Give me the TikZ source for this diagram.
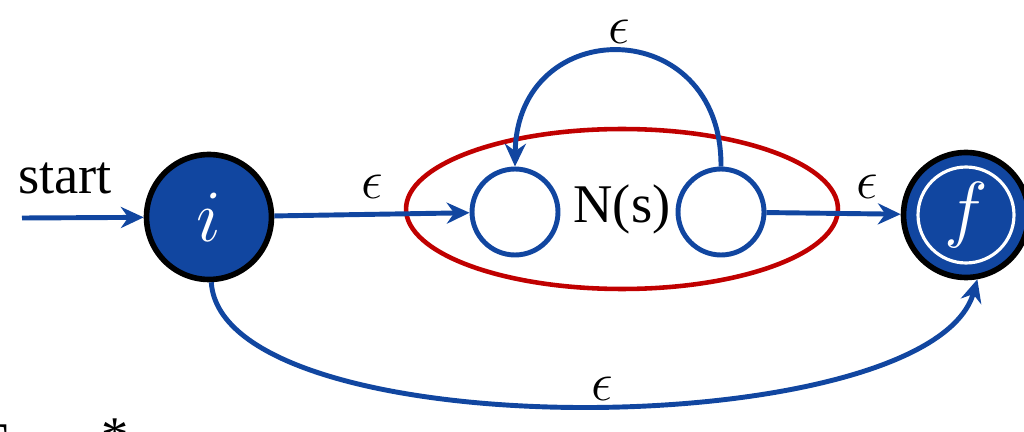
\documentclass[tikz,border=0pt]{standalone}
\usepackage{fix-cm}
\usepackage{fontspec}
\setmainfont{Liberation Serif}
\usetikzlibrary{arrows.meta,shapes.geometric}
\definecolor{nfablue}{HTML}{1146A0}
\definecolor{nfared}{HTML}{C00000}

\begin{document}
\begin{tikzpicture}[x=0.02cm, y=-0.02cm, >={Stealth[length=13pt,width=12pt]},
    every node/.style={font=\fontsize{31}{37}\selectfont},
    endstate/.style={circle,draw=black,line width=3.2pt,fill=nfablue,text=white,minimum size=2.5cm,font=\fontsize{42}{50}\selectfont},
    inner/.style={circle,draw=nfablue,line width=2.8pt,fill=white,minimum size=1.72cm},
    trans/.style={draw=nfablue,line width=2.8pt,->}]
    \useasboundingbox (0,0) rectangle (1024,432);
    % N(s)
    \node[ellipse,draw=nfared,line width=2.6pt,minimum width=8.64cm,minimum height=3.2cm] (ns) at (622,209) {N(s)};
    \node[inner] (q1) at (515,212) {};
    \node[inner] (q2) at (721,212) {};

    % start and final states
    \node[endstate] (i) at (209,217) {$i$};
    \node[endstate,path picture={\draw[white,line width=1.8pt] (path picture bounding box.center) circle (0.96cm);}] (f) at (966,215) {$f$};
    \coordinate (s0) at (22,218);
    \node (start) at (65,178) {start};

    \draw[trans] (s0) -- (i);
    \draw[trans] (i) -- (q1) node[midway,above=4pt] {$\epsilon$};
    \draw[trans] (q2) -- (f) node[pos=0.75,above=4pt] {$\epsilon$};
    \draw[trans] (q2.north) .. controls (722,13) and (517,13) .. (q1.north) node[pos=0.5,above=0pt] {$\epsilon$};
    \draw[trans] (i.-88) .. controls (222,450) and (930,445) .. (f.-80) node[pos=0.52,above=-2pt] {$\epsilon$};

    % cut caption
    \node[anchor=north west,inner sep=0pt] (cap) at (-22,424) {E};
    \node[anchor=north,inner sep=0pt] (star) at (115,418) {*};
\end{tikzpicture}
\end{document}
